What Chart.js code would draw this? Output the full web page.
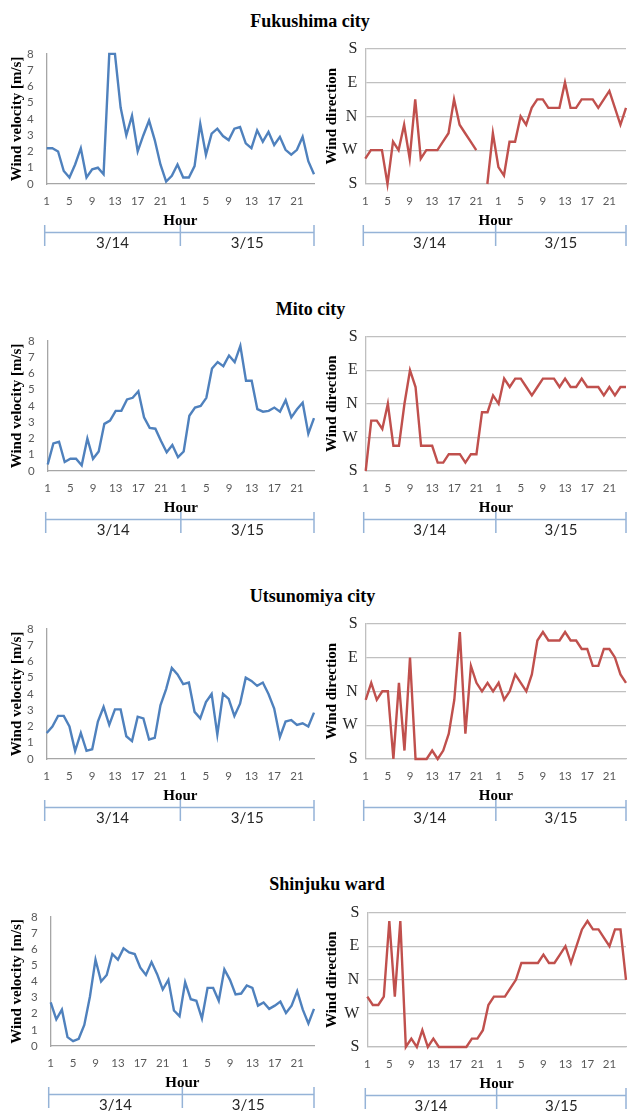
<!DOCTYPE html>
<html>
<head>
<meta charset="utf-8">
<script src="https://cdn.jsdelivr.net/npm/chart.js@4.4.1/dist/chart.umd.min.js"></script>
<style>
  body { margin: 0; background: #fff; }
  #page { position: relative; width: 636px; height: 1111px; overflow: hidden; }
  canvas { position: absolute; }
  .title {
    position: absolute; transform: translateX(-50%); white-space: nowrap;
    font: bold 18px "Liberation Serif", "Times New Roman", serif; line-height: 18px; color: #000;
  }
</style>
</head>
<body>
<div id="page"></div>
<script>
// x axis: hour of day for two days
const hours = [1,2,3,4,5,6,7,8,9,10,11,12,13,14,15,16,17,18,19,20,21,22,23,24,
               1,2,3,4,5,6,7,8,9,10,11,12,13,14,15,16,17,18,19,20,21,22,23,24];
const days = ['3/14', '3/15'];
// direction scale in 16ths of a turn: 0 = S, 4 = W, 8 = N, 12 = E, 16 = S
const dirLabels = ['S', 'W', 'N', 'E', 'S'];

const fukushimaVel = [2.2,2.2,2.0,0.8,0.4,1.2,2.2,0.4,0.9,1.0,0.6,8.0,8.0,4.7,3.0,4.2,2.0,3.0,3.9,2.7,1.2,0.15,0.5,1.2,
                      0.4,0.4,1.1,3.7,1.8,3.1,3.4,2.95,2.7,3.4,3.5,2.5,2.2,3.3,2.6,3.2,2.4,2.9,2.1,1.8,2.1,2.9,1.4,0.6];
const fukushimaDir = [3,4,4,4,0,5,4,7,3,10,3,4,4,4,5,6,10,7,6,5,4,null,0,6,
                      2,1,5,5,8,7,9,10,10,9,9,9,12,9,9,10,10,10,9,10,11,9,7,9];

const mitoVel = [0.4,1.7,1.8,0.55,0.75,0.75,0.35,2.0,0.75,1.2,2.9,3.1,3.7,3.7,4.4,4.5,4.9,3.3,2.65,2.6,1.85,1.15,1.6,0.85,
                 1.2,3.4,3.9,4.0,4.5,6.3,6.7,6.45,7.1,6.7,7.7,5.55,5.55,3.8,3.65,3.7,3.9,3.65,4.35,3.3,3.8,4.2,2.3,3.25];
const mitoDir = [0,6,6,5,8,3,3,8,12,10,3,3,3,1,1,2,2,2,1,2,2,7,7,9,
                 8,11,10,11,11,10,9,10,11,11,11,10,11,10,10,11,10,10,10,9,10,9,10,10];

const utsunomiyaVel = [1.6,2.0,2.65,2.65,2.0,0.5,1.6,0.5,0.6,2.3,3.2,2.1,3.05,3.05,1.4,1.1,2.6,2.5,1.2,1.3,3.3,4.3,5.6,5.2,
                       4.6,4.7,2.9,2.5,3.5,4.0,1.5,4.0,3.7,2.65,3.4,5.0,4.8,4.5,4.7,4.0,3.1,1.35,2.3,2.4,2.1,2.2,2.0,2.85];
const utsunomiyaDir = [7,9,7,8,8,0,9,1,12,0,0,0,1,0,1,3,7,15,3,11,9,8,9,8,
                       9,7,8,10,9,8,10,14,15,14,14,14,15,14,14,13,13,11,11,13,13,12,10,9];

const shinjukuVel = [2.7,1.65,2.25,0.55,0.3,0.45,1.3,3.05,5.35,4.0,4.4,5.7,5.35,6.05,5.8,5.7,4.85,4.4,5.2,4.45,3.5,4.1,2.2,1.85,
                     3.95,2.9,2.8,1.7,3.6,3.6,2.8,4.75,4.1,3.2,3.25,3.75,3.6,2.5,2.7,2.3,2.5,2.75,2.05,2.5,3.4,2.25,1.4,2.3];
const shinjukuDir = [6,5,5,6,15,6,15,0,1,0,2,0,1,0,0,0,0,0,0,1,1,2,5,6,
                     6,6,7,8,10,10,10,10,11,10,10,11,12,10,12,14,15,14,14,13,12,14,14,8];

// page layout: plot area edges (L, R, T, B) of each chart in page pixels
const rows = [
  { title: 'Fukushima city', tx: 310, ty: 11.5, vel: fukushimaVel, dir: fukushimaDir,
    left: { L: 46.7, R: 318, T: 50, B: 184 }, right: { L: 365.3, R: 632.3, T: 47, B: 184 } },
  { title: 'Mito city', tx: 310.5, ty: 300, vel: mitoVel, dir: mitoDir,
    left: { L: 47.7, R: 318.5, T: 337.3, B: 471.7 }, right: { L: 365.7, R: 631.3, T: 335, B: 471.7 } },
  { title: 'Utsunomiya city', tx: 312.5, ty: 586.5, vel: utsunomiyaVel, dir: utsunomiyaDir,
    left: { L: 46.7, R: 318.5, T: 625, B: 759.3 }, right: { L: 365.7, R: 632, T: 622.3, B: 759.3 } },
  { title: 'Shinjuku ward', tx: 327, ty: 875, vel: shinjukuVel, dir: shinjukuDir,
    left: { L: 50.7, R: 322, T: 912.7, B: 1046 }, right: { L: 367.3, R: 632.3, T: 910.7, B: 1046.7 } }
];

const page = document.getElementById('page');
const tickFont = { family: 'Lato, "Open Sans", sans-serif', size: 11.5 };
const titleFont = { family: '"Liberation Serif", serif', size: 15, weight: 'bold' };

// blue bracket with the two dates under the hour axis
const dateBracket = {
  id: 'dateBracket',
  afterDraw(chart) {
    const x = chart.scales.x;
    const B = chart.chartArea.bottom;
    const ctx = chart.ctx;
    const x0 = x.getPixelForValue(0) - 2;
    const xm = (x.getPixelForValue(23) + x.getPixelForValue(24)) / 2;
    const x1 = x.getPixelForValue(47);
    const y = B + 48.5;
    ctx.save();
    ctx.strokeStyle = '#95b3d7';
    ctx.lineWidth = 1.5;
    ctx.beginPath();
    ctx.moveTo(x0, y);
    ctx.lineTo(x1, y);
    [x0, xm, x1].forEach(px => {
      ctx.moveTo(px, B + 41);
      ctx.lineTo(px, B + 62);
    });
    ctx.stroke();
    ctx.fillStyle = '#262626';
    ctx.font = '15px Lato, "Open Sans", sans-serif';
    ctx.textAlign = 'center';
    ctx.textBaseline = 'middle';
    ctx.fillText(days[0], (x0 + xm) / 2, B + 59.5);
    ctx.fillText(days[1], (xm + x1) / 2, B + 59.5);
    ctx.restore();
  }
};

function makeChart(canvasLeft, width, box, data, isDir) {
  const top = box.T - 16;
  const height = box.B - box.T + 86;
  const canvas = document.createElement('canvas');
  canvas.width = width;
  canvas.height = height;
  canvas.style.left = canvasLeft + 'px';
  canvas.style.top = top + 'px';
  page.appendChild(canvas);

  const axisColor = isDir ? '#bfbfbf' : '#a6a6a6';

  new Chart(canvas, {
    type: 'line',
    data: {
      labels: hours,
      datasets: [{
        data: data,
        borderColor: isDir ? '#c0504d' : '#4f81bd',
        borderWidth: 2.4,
        pointRadius: 0,
        tension: 0,
        clip: false,
        spanGaps: false
      }]
    },
    options: {
      responsive: false,
      animation: false,
      layout: { padding: { top: 16, right: canvasLeft + width - box.R, bottom: 24, left: 0 } },
      plugins: { legend: { display: false }, tooltip: { enabled: false } },
      scales: {
        x: {
          grid: { display: false, drawTicks: false },
          border: { display: true, color: axisColor, width: 1.3 },
          ticks: {
            autoSkip: false, maxRotation: 0, padding: 10,
            color: '#595959', font: tickFont,
            callback: (v, i) => (i % 4 === 0 ? hours[i] : '')
          },
          title: { display: true, text: 'Hour', color: '#000', font: titleFont, padding: { top: 0, bottom: 0 } },
          afterFit: s => { s.height = 46; }
        },
        y: isDir ? {
          min: 0, max: 16,
          grid: { display: true, color: '#c0c0c0', lineWidth: 1.3, drawTicks: false },
          border: { display: true, color: axisColor, width: 1.3 },
          ticks: {
            autoSkip: false, stepSize: 4, padding: 8, color: '#262626',
            font: { family: '"Liberation Serif", serif', size: 16 },
            callback: v => dirLabels[v / 4]
          },
          title: { display: true, text: 'Wind direction', color: '#000', font: titleFont, padding: { top: 4.7, bottom: 0 } },
          afterFit: s => { s.width = box.L - canvasLeft; }
        } : {
          min: 0, max: 8,
          grid: { display: false, drawTicks: false },
          border: { display: true, color: axisColor, width: 1.3 },
          ticks: { autoSkip: false, stepSize: 1, padding: 13, color: '#595959', font: tickFont },
          title: { display: true, text: 'Wind velocity [m/s]', color: '#000', font: titleFont, padding: { top: 8.5, bottom: 0 } },
          afterFit: s => { s.width = box.L - canvasLeft; }
        }
      }
    },
    plugins: [dateBracket]
  });
}

rows.forEach(r => {
  const t = document.createElement('div');
  t.className = 'title';
  t.textContent = r.title;
  t.style.left = r.tx + 'px';
  t.style.top = r.ty + 'px';
  page.appendChild(t);
  makeChart(0, 324, r.left, r.vel, false);
  makeChart(318, 318, r.right, r.dir, true);
});
</script>
</body>
</html>
